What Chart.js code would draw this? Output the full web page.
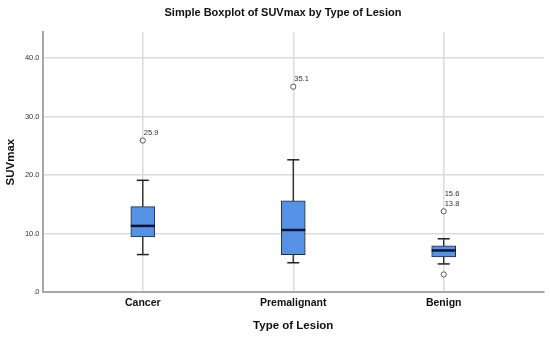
<!DOCTYPE html>
<html>
<head>
<meta charset="utf-8">
<script src="https://cdn.jsdelivr.net/npm/chart.js@4"></script>
<style>
  html, body { margin: 0; padding: 0; background: #fff; }
</style>
</head>
<body>
<canvas id="chartBox" width="550" height="339"></canvas>
<script>
const chartTitle = "Simple Boxplot of SUVmax by Type of Lesion";
const categories = ["Cancer", "Premalignant", "Benign"];
const whiskerLow = [6.4, 5.0, 4.8];
const q1 = [9.4, 6.4, 6.0];
const median = [11.3, 10.6, 7.1];
const q3 = [14.6, 15.6, 7.9];
const whiskerHigh = [19.1, 22.6, 9.1];

// outliers: category index, value, labels (bottom to top)
const outlierCat = [0, 1, 2, 2];
const outlierValue = [25.9, 35.1, 13.8, 3.0];
const outlierLabels = [["25.9"], ["35.1"], ["13.8", "15.6"], []];

const yTicks = [0, 10, 20, 30, 40];

const sans = "'Liberation Sans', Arial, sans-serif";

const boxParts = {
  id: "boxParts",
  beforeDatasetsDraw(chart) {
    const { ctx, scales: { x, y } } = chart;
    ctx.save();
    ctx.strokeStyle = "#222";
    ctx.lineWidth = 1.3;
    categories.forEach((c, i) => {
      const px = x.getPixelForValue(i + 1);
      ctx.beginPath();
      ctx.moveTo(px, y.getPixelForValue(whiskerLow[i]));
      ctx.lineTo(px, y.getPixelForValue(whiskerHigh[i]));
      ctx.stroke();
    });
    ctx.restore();
  },
  afterDatasetsDraw(chart) {
    const { ctx, scales: { x, y } } = chart;
    ctx.save();
    categories.forEach((c, i) => {
      const px = x.getPixelForValue(i + 1);
      // caps
      ctx.strokeStyle = "#222";
      ctx.lineWidth = 1.5;
      [whiskerLow[i], whiskerHigh[i]].forEach(v => {
        const py = y.getPixelForValue(v);
        ctx.beginPath();
        ctx.moveTo(px - 6, py);
        ctx.lineTo(px + 6, py);
        ctx.stroke();
      });
      // median
      ctx.strokeStyle = "#0c1430";
      ctx.lineWidth = 2.5;
      const my = y.getPixelForValue(median[i]);
      ctx.beginPath();
      ctx.moveTo(px - 12, my);
      ctx.lineTo(px + 12, my);
      ctx.stroke();
    });
    // outlier labels
    ctx.fillStyle = "#333";
    ctx.font = "7.5px " + sans;
    ctx.textAlign = "left";
    ctx.textBaseline = "middle";
    outlierValue.forEach((v, k) => {
      const px = x.getPixelForValue(outlierCat[k] + 1);
      const py = y.getPixelForValue(v);
      outlierLabels[k].forEach((lab, j) => {
        ctx.fillText(lab, px + 1, py - 7.5 - j * 10);
      });
    });
    // title, a bit right of centre like the original
    ctx.fillStyle = "#111";
    ctx.font = "bold 11px " + sans;
    ctx.textAlign = "center";
    ctx.fillText(chartTitle, 283, 12.5);
    ctx.restore();
  }
};

new Chart(document.getElementById("chartBox"), {
  data: {
    datasets: [
      {
        type: "bar",
        data: categories.map((c, i) => ({ x: i + 1, y: [q1[i], q3[i]] })),
        backgroundColor: "#5592e6",
        borderColor: "#2a2a3a",
        borderWidth: 1,
        borderSkipped: false,
        barThickness: 24
      },
      {
        type: "scatter",
        data: outlierValue.map((v, k) => ({ x: outlierCat[k] + 1, y: v })),
        pointRadius: 2.6,
        pointBackgroundColor: "#fff",
        pointBorderColor: "#555",
        pointBorderWidth: 1
      }
    ]
  },
  options: {
    responsive: false,
    animation: false,
    layout: { padding: { left: 0, right: 6, top: 32.3, bottom: 0 } },
    plugins: {
      legend: { display: false },
      tooltip: { enabled: false },
      title: { display: false }
    },
    scales: {
      x: {
        type: "linear",
        offset: false,
        min: 1 / 3,
        max: 11 / 3,
        afterBuildTicks: s => { s.ticks = [1, 2, 3].map(v => ({ value: v })); },
        afterFit: s => { s.height = 47; },
        grid: { color: "#dcdcdc", lineWidth: 1.5, drawTicks: false, offset: false },
        border: { color: "#a8a8a8", width: 2 },
        ticks: {
          callback: v => categories[v - 1],
          color: "#111",
          font: { family: sans, size: 10.5, weight: "bold" },
          padding: 5,
          maxRotation: 0
        },
        title: {
          display: true,
          text: "Type of Lesion",
          color: "#111",
          font: { family: sans, size: 11.5, weight: "bold" },
          padding: { top: 0, bottom: 6.5 }
        }
      },
      y: {
        min: 0,
        max: 44.4,
        afterBuildTicks: s => { s.ticks = yTicks.map(v => ({ value: v })); },
        afterFit: s => { s.width = 42.5; },
        grid: { color: "#dcdcdc", lineWidth: 1.5, drawTicks: false },
        border: { color: "#a8a8a8", width: 2 },
        ticks: {
          callback: v => (v === 0 ? ".0" : v.toFixed(1)),
          color: "#333",
          font: { family: sans, size: 7.5 },
          padding: 3
        },
        title: {
          display: true,
          text: "SUVmax",
          color: "#111",
          font: { family: sans, size: 11.5, weight: "bold" },
          padding: { top: 4, bottom: 0 }
        }
      }
    }
  },
  plugins: [boxParts]
});
</script>
</body>
</html>
